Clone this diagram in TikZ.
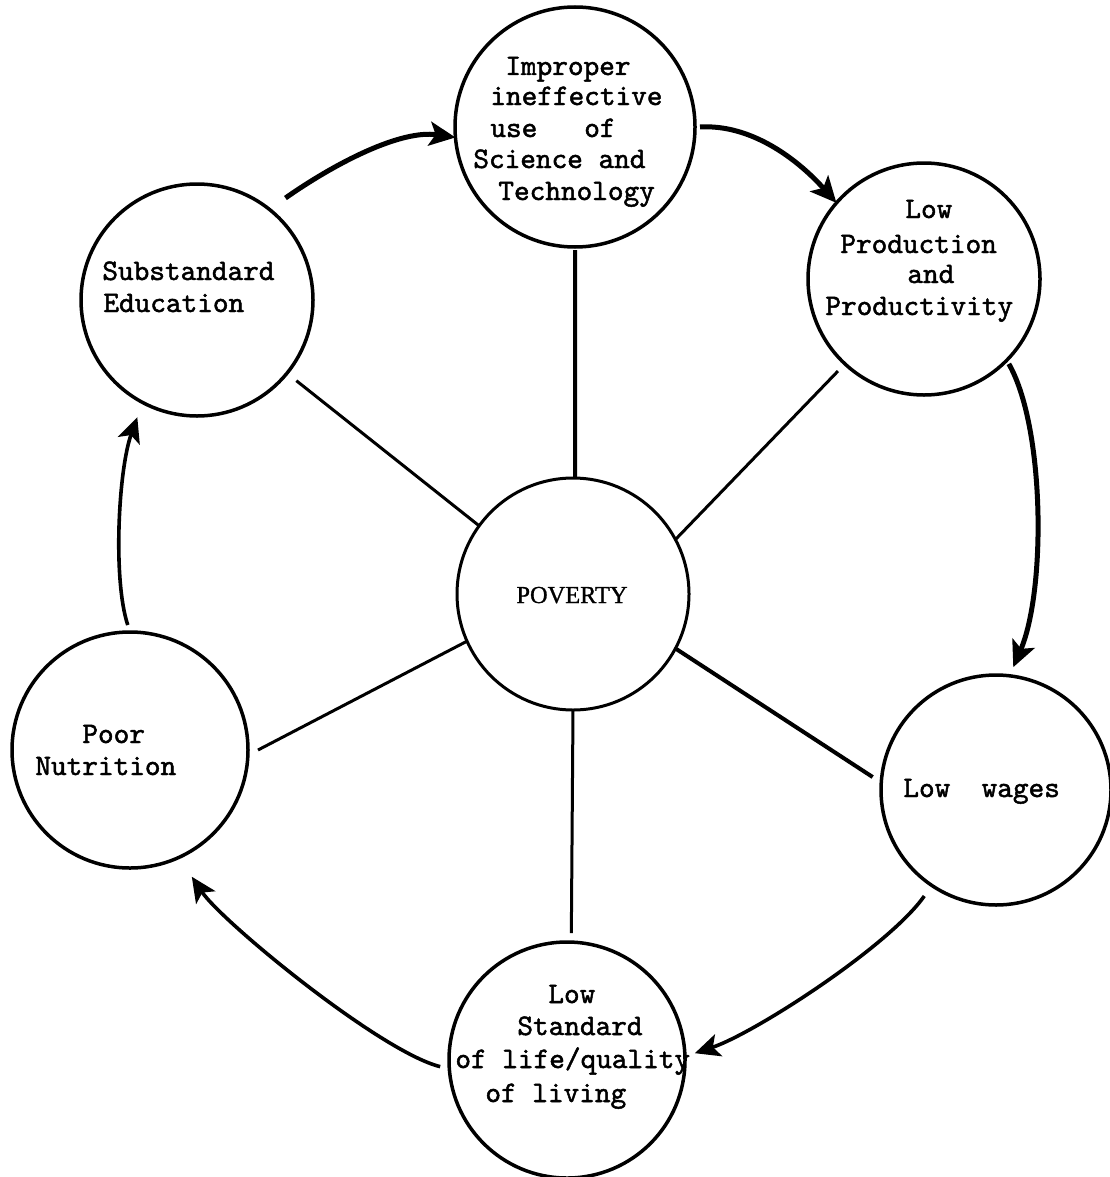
\documentclass[tikz,border=0pt]{standalone}
\usepackage{fontspec}
\setmainfont{Liberation Serif}
\newfontfamily\tw{lmmono10-regular.otf}[FakeBold=1.6]
\newfontfamily\pvfont{Liberation Serif}[FakeBold=1]
\usetikzlibrary{arrows.meta}
\begin{document}
\begin{tikzpicture}[x=0.5pt,y=-0.5pt,
  bub/.style={circle,draw,line width=1.75pt,inner sep=0pt,outer sep=0pt},
  txt/.style={font=\tw\fontsize{14.9}{16}\selectfont,anchor=base west,inner sep=0pt},
  link/.style={line width=1.5pt},
  flow/.style={line width=2.5pt,-{Stealth[length=13pt,width=12pt,inset=3pt]}},
  flowthin/.style={line width=1.8pt,-{Stealth[length=12.5pt,width=11.5pt,inset=3pt]}}]
\fill[white] (0,0) rectangle (1109,1177);
\useasboundingbox (0,0) rectangle (1109,1177);

\node[bub,minimum size=120pt] (top) at (575,127) {};
\node[bub,minimum size=116pt] (prod) at (924,279) {};
\node[bub,minimum size=115pt] (wage) at (996,790) {};
\node[bub,minimum size=118pt] (life) at (567,1060) {};
\node[bub,minimum size=118pt] (nutr) at (130,750) {};
\node[bub,minimum size=116pt] (educ) at (197,300) {};
\node[bub,minimum size=116pt,line width=1.5pt] (pov) at (573,594) {};

\node[txt] (t1) at (505,75) {Improper};
\node[txt] (t2) at (490,105) {ineffective};
\node[txt] (t3) at (490,137) {use\ \ \ of};
\node[txt] (t4) at (473,168) {Science and};
\node[txt] (t5) at (498,200) {Technology};
\node[txt] (p1) at (905,218) {Low};
\node[txt] (p2) at (840,253) {Production};
\node[txt] (p3) at (907,283) {and};
\node[txt] (p4) at (825,315) {Productivity};
\node[txt] (e1) at (102,280) {Substandard};
\node[txt] (e2) at (103,312) {Education};
\node[txt] (w1) at (903,797) {Low\ \ wages};
\node[txt] (l1) at (548,1003) {Low};
\node[txt] (l2) at (517,1035) {Standard};
\node[txt] (l3) at (455,1068) {of life/quality};
\node[txt] (l4) at (485,1102) {of living};
\node[txt] (n1) at (82,743) {Poor};
\node[txt] (n2) at (35,775) {Nutrition};
\node[font=\pvfont\fontsize{12.2}{14}\selectfont,anchor=base,inner sep=0pt] (pv) at (572,603) {POVERTY};

\draw[link,line width=2pt] (pov.89.5) -- ([yshift=-1.5pt]top.south);
\draw[link] (pov.144.9) -- ([shift={(-39.9:6pt)}]educ.-39.9);
\draw[link] (pov.28.1) -- ([shift={(-133.7:5pt)}]prod.-133.7);
\draw[link,line width=2pt] (pov.-28) -- ([shift={(174:4.5pt)}]wage.174);
\draw[link] (pov.-90) -- ([shift={(88.6:4.5pt)}]life.88.6);
\draw[link] (pov.-156) -- ([shift={(0:5pt)}]nutr.0);

\draw[flow] ([shift={(49.5:9.5pt)}]educ.49.5) .. controls +(50,-35) and +(-55,-8) .. (top.185);
\draw[flow] ([shift={(0:2.5pt)}]top.0) .. controls +(50,-3) and +(-40,-45) .. (prod.139);
\draw[flow] ([shift={(-45.7:2pt)}]prod.-45.7) .. controls +(36,63) and +(33,-77) .. ([shift={(82:4.5pt)}]wage.82);
\draw[flowthin] ([shift={(-124.8:6.5pt)}]wage.-124.8) .. controls +(-35,50) and +(60,-20) .. ([shift={(3.6:5pt)}]life.3.6);
\draw[flowthin] ([shift={(183:4.5pt)}]life.183) .. controls +(-60,-15) and +(30,45) .. ([shift={(-64:11.5pt)}]nutr.-64);
\draw[flowthin] ([shift={(91.4:3.5pt)}]nutr.91.4) .. controls +(-15,-45) and +(-19,53) .. ([shift={(-117:7.75pt)}]educ.-117);
\end{tikzpicture}
\end{document}
